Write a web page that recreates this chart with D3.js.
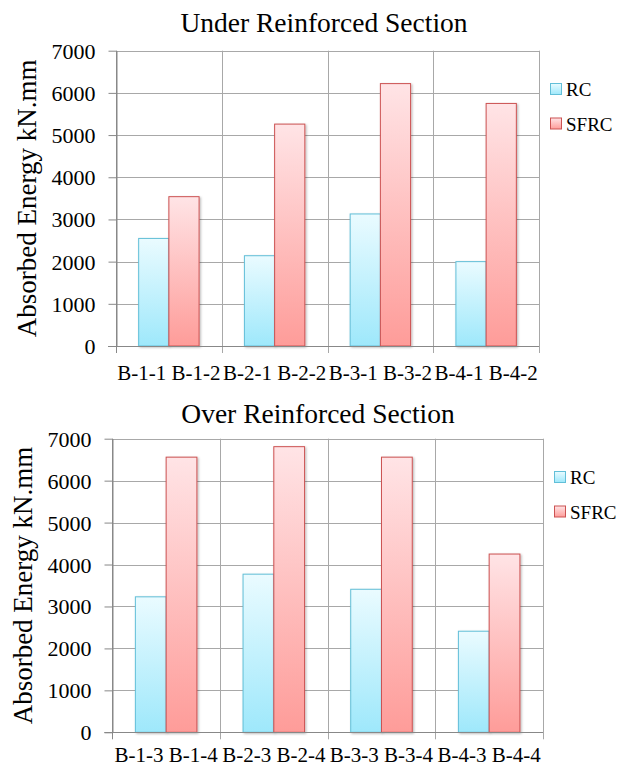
<!DOCTYPE html>
<html lang="en">
<head>
<meta charset="UTF-8">
<script src="https://d3js.org/d3.v7.min.js"></script>
<title>Absorbed Energy</title>
<style>
  html, body { margin: 0; padding: 0; background: #fff; }
  svg { display: block; }
  svg text { font-family: "Liberation Serif", "DejaVu Serif", serif; fill: #000; }
  .yaxis .tick text { font-size: 22px; }
  .xaxis .tick text { font-size: 21px; }
  .legend text { font-size: 19px; }
</style>
</head>
<body>
<script>
// data
const seriesNames = ["RC", "SFRC"];
const yTicks = [0, 1000, 2000, 3000, 4000, 5000, 6000, 7000];
const yLabel = "Absorbed Energy kN.mm";

const underTitle = "Under Reinforced Section";
const underGroups = ["B-1-1 B-1-2", "B-2-1 B-2-2", "B-3-1 B-3-2", "B-4-1 B-4-2"];
const underRC = [2550, 2140, 3130, 2000];
const underSFRC = [3540, 5260, 6220, 5750];

const overTitle = "Over Reinforced Section";
const overGroups = ["B-1-3 B-1-4", "B-2-3 B-2-4", "B-3-3 B-3-4", "B-4-3 B-4-4"];
const overRC = [3230, 3770, 3410, 2410];
const overSFRC = [6560, 6810, 6560, 4250];

const width = 626, height = 766;
const serif = '"Liberation Serif", "DejaVu Serif", serif';

const svg = d3.select("body").append("svg")
  .attr("width", width)
  .attr("height", height)
  .attr("font-family", serif);

// gradients + shadow like the excel bars
const defs = svg.append("defs");
const grads = {
  RC: ["#eafbff", "#9ee8fb"],
  SFRC: ["#ffe4e6", "#fe9c99"]
};
const strokes = { RC: "#62bfd8", SFRC: "#cc5252" };
Object.keys(grads).forEach(k => {
  const g = defs.append("linearGradient")
    .attr("id", "grad" + k)
    .attr("x1", 0).attr("y1", 0).attr("x2", 0).attr("y2", 1);
  g.append("stop").attr("offset", "0%").attr("stop-color", grads[k][0]);
  g.append("stop").attr("offset", "100%").attr("stop-color", grads[k][1]);
});
defs.append("filter").attr("id", "shadow")
  .attr("x", "-20%").attr("y", "-5%").attr("width", "150%").attr("height", "115%")
  .append("feDropShadow")
  .attr("dx", 1.2).attr("dy", 1).attr("stdDeviation", 1.3)
  .attr("flood-color", "#000").attr("flood-opacity", 0.28);

function drawChart(opt) {
  const { title, groups, rc, sfrc, left, right, top, bottom } = opt;
  const g = svg.append("g");

  const x0 = d3.scaleBand().domain(groups).range([left, right]).padding(0);
  const x1 = d3.scaleBand().domain(seriesNames).range([0, x0.bandwidth()])
    .paddingInner(0).paddingOuter(0.75);
  const y = d3.scaleLinear().domain([0, 7000]).range([bottom, top]);

  // horizontal grid
  g.append("g")
    .selectAll("line")
    .data(yTicks)
    .join("line")
    .attr("x1", left).attr("x2", right)
    .attr("y1", d => Math.round(y(d)) + 0.5)
    .attr("y2", d => Math.round(y(d)) + 0.5)
    .attr("stroke", "#a8a8a8");

  // vertical grid at group boundaries
  const edges = groups.map(d => x0(d)).concat([right]);
  g.append("g")
    .selectAll("line")
    .data(edges)
    .join("line")
    .attr("x1", d => Math.round(d) + 0.5).attr("x2", d => Math.round(d) + 0.5)
    .attr("y1", top).attr("y2", bottom + 7)
    .attr("stroke", (d, i) => i === 0 ? "#888" : "#a8a8a8");

  // bars
  const rows = groups.map((grp, i) => ({ grp, values: [
    { key: "RC", value: rc[i] },
    { key: "SFRC", value: sfrc[i] }
  ]}));

  g.append("g")
    .selectAll("g")
    .data(rows)
    .join("g")
    .attr("transform", d => `translate(${x0(d.grp)},0)`)
    .selectAll("rect")
    .data(d => d.values)
    .join("rect")
    .attr("x", d => x1(d.key))
    .attr("y", d => y(d.value))
    .attr("width", x1.bandwidth())
    .attr("height", d => y(0) - y(d.value))
    .attr("fill", d => `url(#grad${d.key})`)
    .attr("stroke", d => strokes[d.key])
    .attr("stroke-width", 1)
    .attr("filter", "url(#shadow)");

  // y axis
  const yAxis = g.append("g")
    .attr("class", "yaxis")
    .attr("transform", `translate(${Math.round(left) + 0.5},0)`)
    .call(d3.axisLeft(y).tickValues(yTicks).tickFormat(d3.format("d"))
      .tickSizeInner(8).tickSizeOuter(0).tickPadding(13));
  yAxis.attr("font-family", serif);
  yAxis.select(".domain").attr("stroke", "#888");
  yAxis.selectAll(".tick line").attr("stroke", "#888");
  yAxis.selectAll(".tick text").attr("dy", "0.34em").attr("fill", "#000");

  // x axis line
  g.append("line")
    .attr("x1", left - 8).attr("x2", right)
    .attr("y1", Math.round(bottom) + 0.5).attr("y2", Math.round(bottom) + 0.5)
    .attr("stroke", "#888");

  // x labels (one per group)
  const xAxis = g.append("g")
    .attr("class", "xaxis")
    .attr("transform", `translate(0,${bottom})`)
    .call(d3.axisBottom(x0).tickSize(0));
  xAxis.attr("font-family", serif);
  xAxis.select(".domain").remove();
  xAxis.selectAll(".tick text").attr("y", opt.xLabelDy).attr("dy", 0).attr("fill", "#000");

  // title
  g.append("text")
    .attr("x", opt.titleX)
    .attr("y", opt.titleY)
    .attr("text-anchor", "middle")
    .style("font-size", "27.5px")
    .text(title);

  // y label
  g.append("text")
    .attr("transform", `translate(${opt.labelX},${(top + bottom) / 2}) rotate(-90)`)
    .attr("text-anchor", "middle")
    .style("font-size", "27px")
    .text(yLabel);

  // legend
  const legend = g.append("g")
    .attr("class", "legend")
    .attr("transform", `translate(${opt.legendX},${opt.legendY})`);
  seriesNames.forEach((s, i) => {
    legend.append("rect")
      .attr("x", 0.5).attr("y", i * 34.5 + 0.5)
      .attr("width", 11).attr("height", 11)
      .attr("fill", `url(#grad${s})`)
      .attr("stroke", strokes[s]);
    legend.append("text")
      .attr("x", 16).attr("y", i * 34.5 + 13)
      .text(s);
  });
}

drawChart({
  title: underTitle, groups: underGroups, rc: underRC, sfrc: underSFRC,
  left: 116, right: 539, top: 50.7, bottom: 346, xLabelDy: 34,
  titleX: 324, titleY: 32, labelX: 36, legendX: 550, legendY: 83
});

drawChart({
  title: overTitle, groups: overGroups, rc: overRC, sfrc: overSFRC,
  left: 112.3, right: 543, top: 438.7, bottom: 732.3, xLabelDy: 30,
  titleX: 318, titleY: 423, labelX: 31.5, legendX: 554, legendY: 471
});
</script>
</body>
</html>
